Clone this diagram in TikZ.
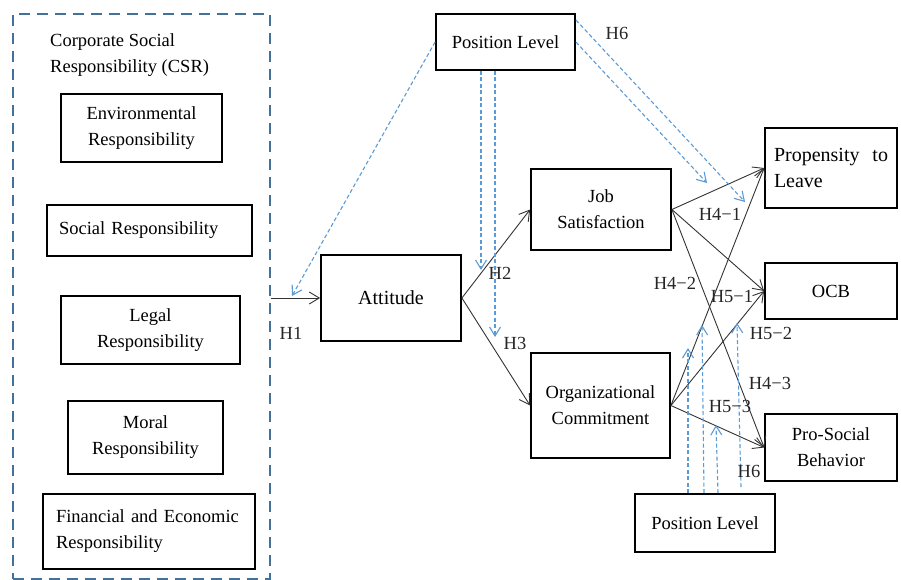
\documentclass[tikz,border=0pt]{standalone}
\usepackage{fontspec}
\setmainfont{Liberation Serif}
\usetikzlibrary{arrows.meta, positioning, calc}
\definecolor{csrblue}{RGB}{65,113,156}
\definecolor{plblue}{RGB}{91,155,213}

\begin{document}
\begin{tikzpicture}[
  x=1pt, y=-1pt,
  box/.style = {rectangle, draw=black, line width=1.8pt, align=center,
                inner sep=0pt, font=\fontsize{18.5}{26}\selectfont},
  big/.style = {box, font=\fontsize{20}{26}\selectfont},
  csrbox/.style = {rectangle, draw=csrblue, line width=2.6pt,
                   dash pattern=on 11pt off 7pt},
  lbl/.style = {font=\fontsize{18.5}{20}\selectfont, text=black!85, inner sep=0pt},
  arr/.style = {-{Straight Barb[length=10pt,width=12pt]}, line width=0.9pt,
                draw=black!80},
  mod/.style = {-{Straight Barb[length=9pt,width=11pt]}, line width=1.1pt,
                draw=plblue, dash pattern=on 4pt off 2.5pt}
]
  \useasboundingbox (0,0) rectangle (901,579);

  % CSR block
  \node[csrbox, minimum width=257pt, minimum height=565pt] (csr) at (141.5,296.5) {};
  \node[anchor=west, align=left, inner sep=0pt,
        font=\fontsize{18.5}{26}\selectfont] (csrt) at (50,55)
    {Corporate Social\\Responsibility (CSR)};
  \node[box, minimum width=161pt, minimum height=68pt] (env) at (141.5,128)
    {Environmental\\Responsibility};
  \node[box, minimum width=205pt, minimum height=51pt, text width=181pt,
        align=left] (soc) at (149.5,230.5) {Social Responsibility};
  \node[box, minimum width=179pt, minimum height=68pt] (leg) at (150.5,330)
    {Legal\\Responsibility};
  \node[box, minimum width=155pt, minimum height=73pt] (mor) at (145.5,437.5)
    {Moral\\Responsibility};
  \node[box, minimum width=212pt, minimum height=75pt, text width=186pt,
        align=left] (fin) at (149,531.5)
    {Financial and Economic\\Responsibility};

  % mediators and outcomes
  \node[big, minimum width=140pt, minimum height=86pt] (att) at (391,298) {Attitude};
  \node[box, minimum width=139pt, minimum height=56pt] (plT) at (505.5,42) {Position Level};
  \node[box, minimum width=140pt, minimum height=81pt] (job) at (601,209.5)
    {Job\\Satisfaction};
  \node[box, minimum width=139pt, minimum height=105pt] (org) at (600.5,405.5)
    {Organizational\\Commitment};
  \node[big, minimum width=132pt, minimum height=80pt, text width=114pt,
        align=left] (prop) at (831,168) {Propensity\hfill to\\Leave};
  \node[box, minimum width=132pt, minimum height=56pt] (ocb) at (831,291) {OCB};
  \node[box, minimum width=132pt, minimum height=67pt] (pro) at (831,447.5)
    {Pro-Social\\Behavior};
  \node[box, minimum width=140pt, minimum height=58pt] (plB) at (705,523) {Position Level};

  % main paths
  \draw[arr] (csr.east |- att.west) -- (att.west);
  \draw[arr] (att.east) -- (job.west);
  \draw[arr] (att.east) -- (org.west);
  \foreach \out in {prop, ocb, pro} {
    \draw[arr] (job.east) -- (\out.west);
    \draw[arr] (org.east) -- (\out.west);
  }

  % moderation by position level
  \coordinate (m1) at (292,296);
  \coordinate (m2) at (481,270);
  \coordinate (m3) at (495,337);
  \coordinate (m4) at (707,183);
  \coordinate (m5) at (745,202);
  \coordinate (n1) at (688,348);
  \coordinate (n2) at (702,325);
  \coordinate (n3) at (716,425);
  \coordinate (n4) at (737,323);
  \draw[mod] (plT.west) -- (m1);
  \draw[mod] ([xshift=-24.5pt]plT.south) -- (m2);
  \draw[mod] ([xshift=-10.5pt]plT.south) -- (m3);
  \draw[mod] (plT.east) -- (m4);
  \draw[mod] ([yshift=22pt]plT.east) -- (m5);
  \draw[mod] ([xshift=-17pt]plB.north) -- (n1);
  \draw[mod] ([xshift=-1pt]plB.north) -- (n2);
  \draw[mod] ([xshift=13pt]plB.north) -- (n3);
  \draw[mod] ([xshift=36pt,yshift=6pt]plB.north) -- (n4);

  % hypothesis labels
  \node[lbl] (h1)  at (291,333) {H1};
  \node[lbl] (h2)  at (500,273) {H2};
  \node[lbl] (h3)  at (515,343) {H3};
  \node[lbl] (h6a) at (617,33)  {H6};
  \node[lbl] (h41) at (720,214) {H4−1};
  \node[lbl] (h42) at (675,283) {H4−2};
  \node[lbl] (h51) at (732,296) {H5−1};
  \node[lbl] (h52) at (771,333) {H5−2};
  \node[lbl] (h43) at (770,383) {H4−3};
  \node[lbl] (h53) at (730,406) {H5−3};
  \node[lbl] (h6b) at (749,471) {H6};
\end{tikzpicture}
\end{document}
